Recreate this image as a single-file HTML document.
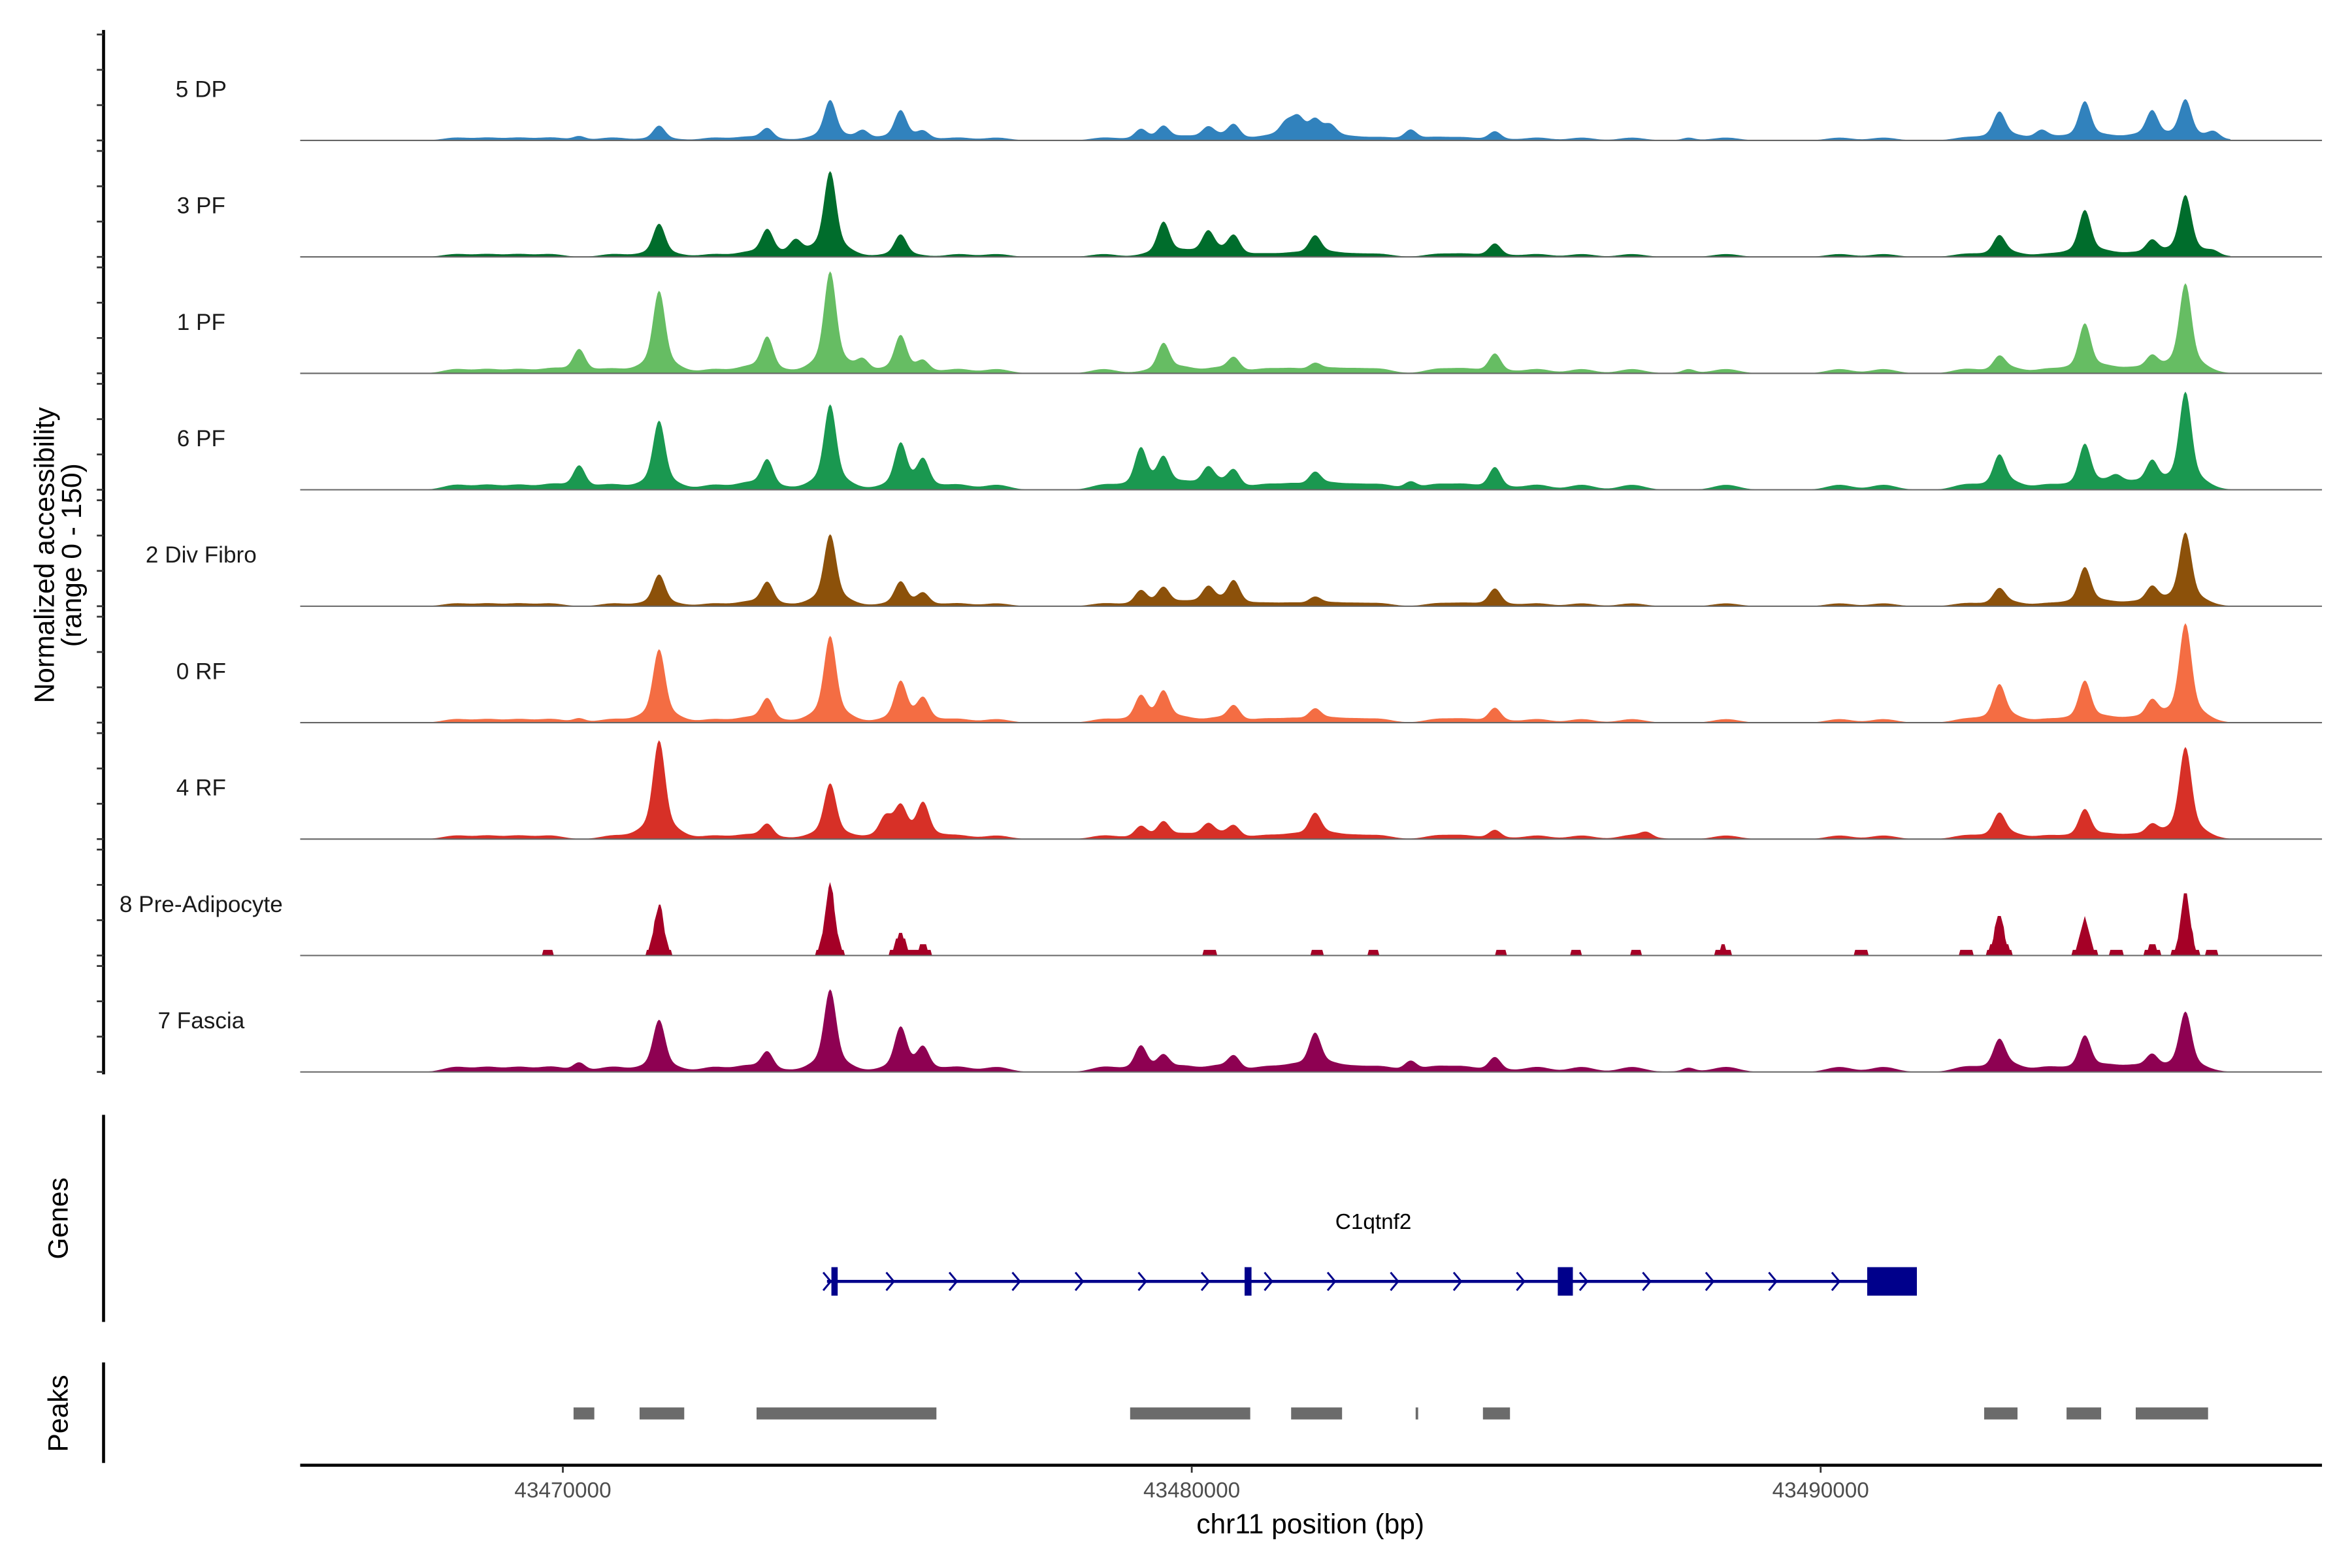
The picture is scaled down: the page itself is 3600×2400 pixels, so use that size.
<!DOCTYPE html>
<html><head><meta charset="utf-8">
<style>
html,body{margin:0;padding:0;background:#fff;}
svg{display:block;}
text{font-family:"Liberation Sans",Arial,sans-serif;}
</style></head>
<body>
<svg id="chart" width="3600" height="2400" viewBox="0 0 1567 1045" preserveAspectRatio="none" xmlns="http://www.w3.org/2000/svg">
<rect x="0" y="0" width="1567" height="1045" fill="#fff"/>
</svg>
<script>
// ---- data ----
const trackNames = ["5 DP","3 PF","1 PF","6 PF","2 Div Fibro","0 RF","4 RF","8 Pre-Adipocyte","7 Fascia"];
const trackColors = ["#3182bd","#006d2c","#66bd63","#1a9850","#8c510a","#f46d43","#d73027","#a50026","#8e0152"];
// peak centres (kb) and heights (normalized accessibility, 0-150)
const dpPos = [43470.26,43471.53,43473.25,43474.25,43474.77,43475.37,43475.73,43479.19,43479.55,43480.26,43480.67,43481.5,43481.69,43481.96,43482.2,43483.48,43484.82,43487.9,43492.84,43493.51,43494.2,43495.27,43495.8,43496.25];
const dpVal = [6,21,17,57,13,42,11,15,19,15,21,18,25,23,15,15,13,4,38,11,55,40,57,11];
const pf3Pos = [43471.53,43473.25,43473.7,43474.25,43475.37,43479.55,43480.26,43480.67,43481.96,43484.82,43492.84,43494.2,43495.27,43495.8,43496.25];
const pf3Val = [47,38,21,121,32,49,32,28,28,19,28,66,21,87,6];
const pf1Pos = [43470.26,43471.53,43473.25,43474.25,43474.77,43475.37,43475.73,43479.55,43480.67,43481.96,43484.82,43487.9,43492.84,43494.2,43495.27,43495.8];
const pf1Val = [34,117,51,144,17,53,15,42,21,11,28,6,21,70,21,127];
const pf6Pos = [43470.26,43471.53,43473.25,43474.25,43475.37,43475.73,43479.19,43479.55,43480.26,43480.67,43481.96,43483.48,43484.82,43492.84,43494.2,43494.7,43495.27,43495.8];
const pf6Val = [34,98,42,121,64,40,57,42,25,25,21,11,32,45,64,11,36,138];
const divPos = [43471.53,43473.25,43474.25,43475.37,43475.73,43479.19,43479.55,43480.26,43480.67,43481.96,43484.82,43492.84,43494.2,43495.27,43495.8];
const divVal = [45,34,102,34,17,21,25,23,34,11,25,23,55,25,104];
const rf0Pos = [43470.26,43471.53,43473.25,43474.25,43475.37,43475.73,43479.19,43479.55,43480.67,43481.96,43484.82,43492.84,43494.2,43495.27,43495.8];
const rf0Val = [6,104,34,123,57,32,36,42,23,17,21,51,59,28,140];
const rf4Pos = [43471.53,43473.25,43474.25,43475.13,43475.37,43475.73,43479.19,43479.55,43480.26,43480.67,43481.96,43484.82,43487.23,43492.84,43494.2,43495.27,43495.8];
const rf4Val = [140,21,79,28,42,49,17,23,17,17,34,13,8,34,42,17,130];
const prePos = [43469.76,43471.53,43474.25,43475.37,43475.73,43480.29,43482.0,43482.89,43484.92,43486.11,43487.06,43488.45,43490.64,43492.31,43492.84,43494.2,43494.7,43495.27,43495.8,43496.23];
const preVal = [8,72,102,32,17,11,8,8,8,8,8,13,11,11,59,53,11,17,89,8];
const fasPos = [43470.26,43471.53,43473.25,43474.25,43475.37,43475.73,43479.19,43479.55,43480.67,43481.96,43483.48,43484.82,43487.9,43492.84,43494.2,43495.27,43495.8];
const fasVal = [13,74,28,117,62,32,36,21,21,51,15,21,6,42,51,21,85];
const trackPos = [dpPos,pf3Pos,pf1Pos,pf6Pos,divPos,rf0Pos,rf4Pos,prePos,fasPos];
const trackVal = [dpVal,pf3Val,pf1Val,pf6Val,divVal,rf0Val,rf4Val,preVal,fasVal];
// low background accessibility bumps (kb) and per-track level
const bgPos = [43468.3,43468.8,43469.3,43469.8,43470.8,43472.4,43472.9,43476.3,43476.9,43478.6,43479.9,43480.4,43481.2,43481.6,43482.2,43482.6,43483.0,43483.9,43484.3,43485.5,43486.2,43487.0,43488.5,43490.3,43491.0,43492.3,43493.0,43493.6,43494.6,43495.0];
const bgLevel = [4,4,6,7,4,5,5,0,7];
// genes (kb)
const geneStart = 43474.20, geneEnd = 43491.53;
const exonStart = [43474.27,43480.84,43485.82,43490.74];
const exonEnd   = [43474.37,43480.95,43486.06,43491.53];
const geneLabel = "C1qtnf2";
// peaks (kb)
const peakStart = [43470.17,43471.22,43473.08,43479.02,43481.58,43483.56,43484.63,43492.60,43493.91,43495.01];
const peakEnd   = [43470.50,43471.93,43475.94,43480.93,43482.39,43483.60,43485.06,43493.13,43494.46,43496.16];
const xTicks = [43470000,43480000,43490000];
const yRangeMax = 150;

// ---- layout ----
const NS = "http://www.w3.org/2000/svg";
const svg = document.getElementById('chart');
const X0 = 375, PXKB = 41.9;
function xScale(kb){ return X0 + (kb - 43470) * PXKB; }
function xInv(px){ return 43470 + (px - X0) / PXKB; }
const TRACK_TOP0 = 23, TRACK_H = 70.6, TRACK_STEP = 77.6;
function yScale(v, i){ const base = TRACK_TOP0 + i*TRACK_STEP + TRACK_H; return base - Math.min(v, yRangeMax)/yRangeMax*TRACK_H; }
function mk(tag, attrs, parent){ const e = document.createElementNS(NS, tag); for (const k in attrs) e.setAttribute(k, attrs[k]); (parent||svg).appendChild(e); return e; }

// left axis
const axL = mk('line',{x1:69,y1:20,x2:69,y2:716,stroke:'#000','stroke-width':2});


for (let i=0;i<9;i++){
  for (let k=0;k<4;k++){
    const y = TRACK_TOP0 + i*TRACK_STEP + k*TRACK_H/3;
    const t = mk('line',{x1:64.5,y1:y,x2:69,y2:y,stroke:'#333','stroke-width':1.2});
    
    
  }
}
const yt = mk('text',{transform:'translate(36,370) rotate(-90)','text-anchor':'middle','font-size':18.5,fill:'#000'});
yt.textContent = 'Normalized accessibility';


const yt2 = mk('text',{transform:'translate(54,370) rotate(-90)','text-anchor':'middle','font-size':18.5,fill:'#000'});
yt2.textContent = '(range 0 - 150)';



// tracks
for (let i=0;i<9;i++){
  const g = mk('g',{});
  
  
  const pos = trackPos[i], val = trackVal[i];
  const pre = i===7;
  const sig = pre ? 0.07 : 0.09;
  const sig2 = pre ? 0.12 : 0.26;
  const base = yScale(0,i);
  let d = 'M200,'+base;
  for (let px=200; px<=1486; px+=1){
    const kb = xInv(px);
    let v = 0;
    for (let j=0;j<pos.length;j++){
      const z=(kb-pos[j])/sig, z2=(kb-pos[j])/sig2;
      v += val[j]*(0.78*Math.exp(-0.5*z*z) + 0.22*Math.exp(-0.5*z2*z2));
    }
    if (!pre && px>260){
      for (let j=0;j<bgPos.length;j++){ const z=(kb-bgPos[j])/0.2; v += bgLevel[i]*Math.exp(-0.5*z*z); }
    }
    if (pre) v = v < 3 ? 0 : Math.round(v/8)*8;
    d += ' L'+px+','+yScale(v,i).toFixed(2);
  }
  d += ' L1486,'+base+' Z';
  const area = mk('path',{d:d,fill:trackColors[i],stroke:'none'},g);
  
  
  const bl = mk('line',{x1:200,y1:base,x2:1547,y2:base,stroke:'#666','stroke-width':0.9},g);
  
  
  const lab = mk('text',{x:134,y:base-29,'text-anchor':'middle','font-size':15.3,fill:'#1a1a1a'},g);
  lab.textContent = trackNames[i];
  
  
}

// genes panel
const ga = mk('line',{x1:69,y1:743,x2:69,y2:881,stroke:'#000','stroke-width':2});


const gt = mk('text',{transform:'translate(45,812) rotate(-90)','text-anchor':'middle','font-size':18.5,fill:'#000'});
gt.textContent='Genes';


const GY = 854;
const gl = mk('line',{x1:xScale(geneStart),y1:GY,x2:xScale(geneEnd),y2:GY,stroke:'#00008b','stroke-width':2});


for (let px=xScale(geneStart)+0.5; px<xScale(geneEnd)-20; px+=42){
  const c = mk('polyline',{points:(px-3)+','+(GY-6)+' '+(px+2)+','+GY+' '+(px-3)+','+(GY+6),fill:'none',stroke:'#00008b','stroke-width':1.3});
  
  
}
for (let j=0;j<exonStart.length;j++){
  const x1=xScale(exonStart[j]), x2=xScale(exonEnd[j]);
  const r = mk('rect',{x:x1,y:GY-9.5,width:Math.max(x2-x1,3),height:19,fill:'#00008b'});
  
  
}
const gn = mk('text',{x:915,y:819,'text-anchor':'middle','font-size':14.5,fill:'#000'});
gn.textContent = geneLabel;



// peaks panel
const pa = mk('line',{x1:69,y1:908,x2:69,y2:975,stroke:'#000','stroke-width':2});


const pt = mk('text',{transform:'translate(45,942) rotate(-90)','text-anchor':'middle','font-size':18.5,fill:'#000'});
pt.textContent='Peaks';


for (let j=0;j<peakStart.length;j++){
  const x1=xScale(peakStart[j]), x2=xScale(peakEnd[j]);
  const r = mk('rect',{x:x1,y:938,width:Math.max(x2-x1,1.5),height:8,fill:'#6b6b6b'});
  
  
}

// x axis
const xa = mk('line',{x1:200,y1:976.5,x2:1547,y2:976.5,stroke:'#000','stroke-width':2});


for (const t of xTicks){
  const x = xScale(t/1000);
  const tk = mk('line',{x1:x,y1:977,x2:x,y2:981.5,stroke:'#333','stroke-width':1.2});
  
  
  const tl = mk('text',{x:x,y:998,'text-anchor':'middle','font-size':14.5,fill:'#4d4d4d'});
  tl.textContent = String(t);
  
  
}
const xt = mk('text',{x:873,y:1022,'text-anchor':'middle','font-size':18.5,fill:'#000'});
xt.textContent = 'chr11 position (bp)';


</script>
</body></html>
